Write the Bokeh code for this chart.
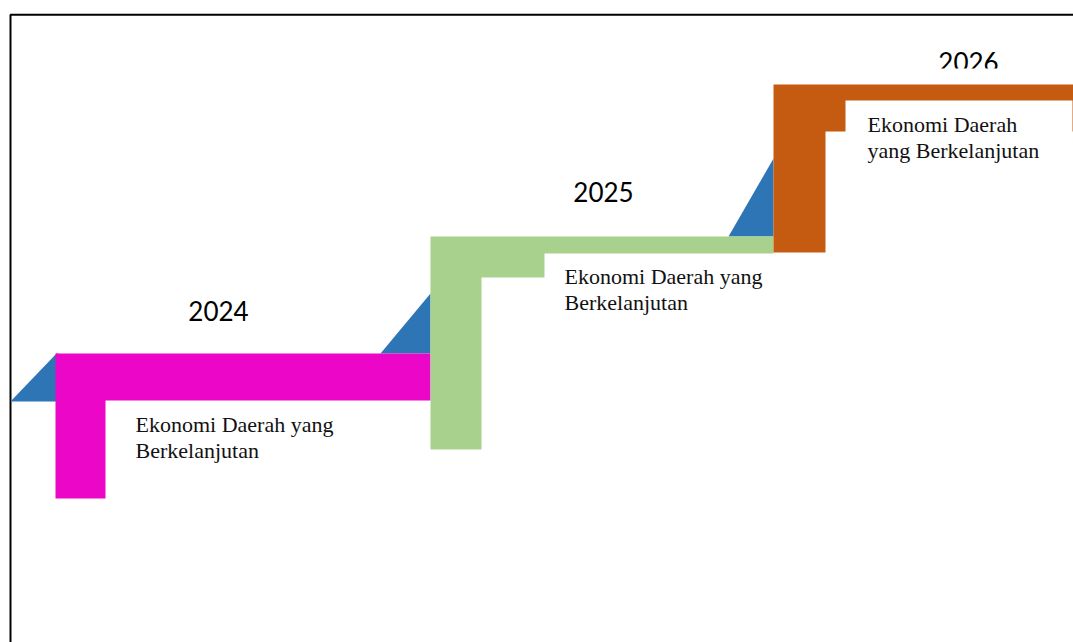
from bokeh.plotting import figure
from bokeh.models import Range1d
from bokeh.core.properties import value
from bokeh.embed import file_html
from bokeh.resources import INLINE

# ---- content ----
years = ["2024", "2025", "2026"]
step_colors = ["#EC06C8", "#A9D18E", "#C55A11"]
accent_color = "#2E75B6"
desc_lines = [
    ["Ekonomi Daerah yang", "Berkelanjutan"],
    ["Ekonomi Daerah yang", "Berkelanjutan"],
    ["Ekonomi Daerah", "yang Berkelanjutan"],
]

# ---- geometry (page pixel coordinates) ----
tri_xs = [[10, 57, 57], [380, 430, 430], [728, 773, 773]]
tri_ys = [[401, 352, 401], [353, 293, 353], [236, 158, 236]]
step_xs = [
    [55, 430, 430, 105, 105, 55],
    [430, 773, 773, 544, 544, 481, 481, 430],
    [773, 1073, 1073, 845, 845, 825, 825, 773],
]
step_ys = [
    [353, 353, 400, 400, 498, 498],
    [236, 236, 253, 253, 277, 277, 449, 449],
    [84, 84, 100, 100, 131, 131, 252, 252],
]
year_pos = [(218, 310), (603, 191), (968, 61)]
desc_pos = [(135, 424), (564, 276), (867, 124)]
line_gap = 25.5

p = figure(width=1073, height=642, output_backend="svg", toolbar_location=None,
           x_range=Range1d(0, 1073), y_range=Range1d(642, 0), min_border=0)
p.axis.visible = False
p.grid.visible = False
p.outline_line_color = None
p.background_fill_color = "white"

# frame
p.line([1090, 10, 10], [14.3, 14.3, 660], line_color="black", line_width=2)

p.patches(tri_xs, tri_ys, fill_color=accent_color, line_color=None)
p.patches(step_xs, step_ys, fill_color=step_colors, line_color=None)
# thin orange sliver at right edge of last step
p.quad(left=[1072], right=[1074], top=[99], bottom=[131], fill_color=step_colors[2], line_color=None)

p.text(x=[q[0] for q in year_pos], y=[q[1] for q in year_pos], text=years,
       text_font=value("Lato"), text_font_size="26px", text_color="black",
       text_align="center", text_baseline="alphabetic")
# clip 2026 label bottom (text box edge)
p.quad(left=[900], right=[1040], top=[68], bottom=[83.5], fill_color="white", line_color=None)

tx, ty, tt = [], [], []
for (x0, y0), lines in zip(desc_pos, desc_lines):
    for i, ln in enumerate(lines):
        tx.append(x0)
        ty.append(y0 + i * line_gap)
        tt.append(ln)
p.text(x=tx, y=ty, text=tt, text_font=value("Liberation Serif"), text_font_size="22px",
       text_color="#111111", text_align="left", text_baseline="alphabetic")

open("out.html", "w").write(file_html(p, INLINE))
